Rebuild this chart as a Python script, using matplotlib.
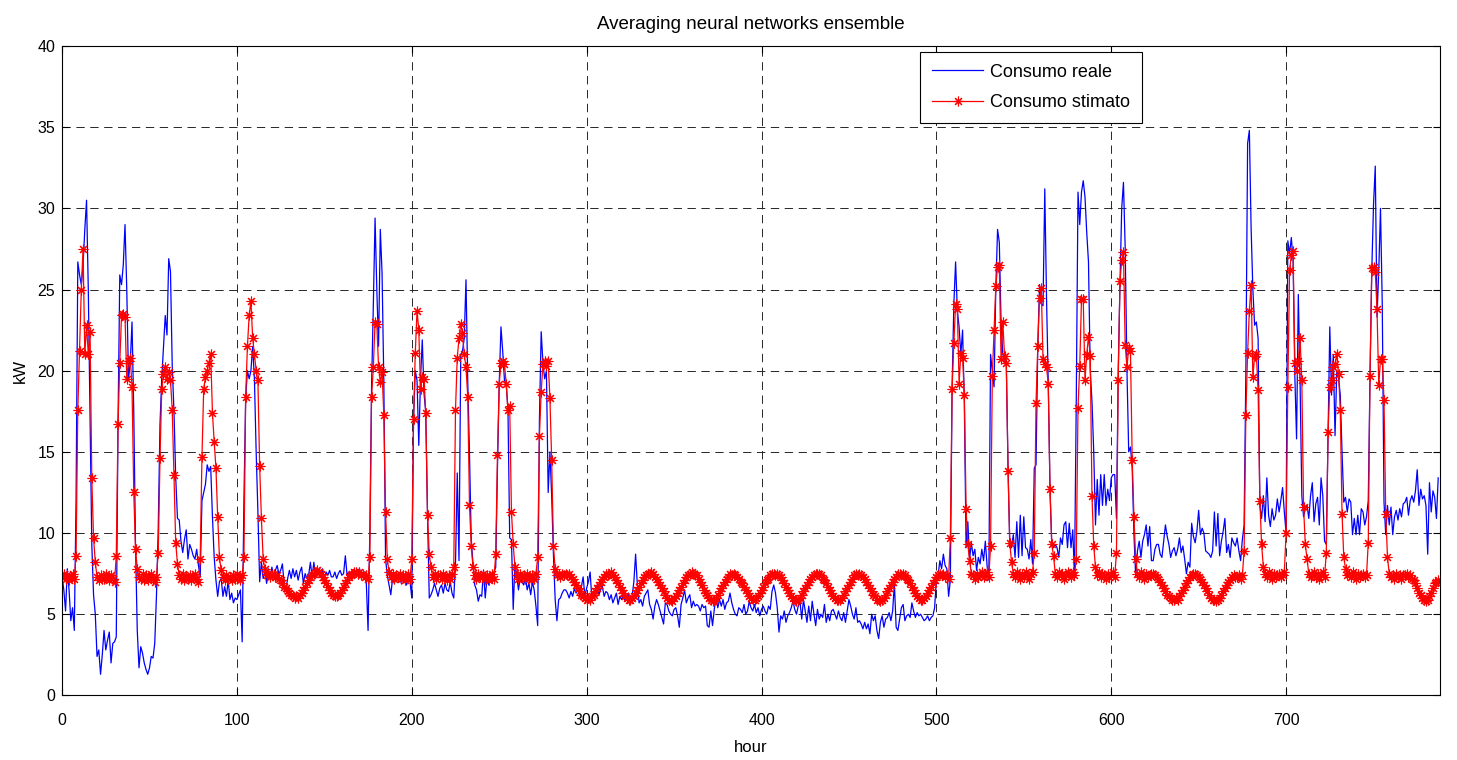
import numpy as np
import matplotlib
matplotlib.use("Agg")
import matplotlib.pyplot as plt

plt.rcParams['font.family'] = ['Liberation Sans', 'DejaVu Sans']
plt.rcParams['lines.scale_dashes'] = False

# hourly values, one row per day (24 h), last day is partial
consumo_reale = [
    7.3, 6.5, 5.2, 7.8, 6.5, 4.6, 5.4, 4.0, 12.0, 26.7, 25.9, 25.3, 26.5, 28.7, 30.5, 25.0, 17.0, 9.3, 6.2, 5.0, 2.4, 2.8, 1.3, 2.5,
    4.0, 2.8, 3.4, 3.9, 2.0, 3.2, 3.3, 3.6, 16.7, 25.9, 25.3, 26.5, 29.0, 25.0, 19.5, 20.5, 23.0, 17.5, 9.3, 4.0, 1.7, 3.0, 2.6, 2.0,
    1.6, 1.3, 1.7, 2.4, 2.3, 3.2, 6.2, 10.3, 16.7, 19.5, 21.5, 23.4, 22.2, 26.9, 26.1, 20.3, 17.5, 13.4, 10.9, 10.8, 9.5, 8.8, 9.6, 10.2,
    8.4, 9.3, 9.0, 8.6, 8.4, 9.0, 8.0, 7.3, 12.0, 12.5, 13.0, 14.2, 13.8, 14.1, 11.0, 8.5, 7.1, 6.1, 7.0, 7.2, 6.1, 6.7, 6.1, 7.1,
    5.9, 6.3, 5.7, 6.0, 5.9, 6.2, 6.5, 3.3, 12.0, 18.3, 20.0, 19.5, 20.0, 21.5, 19.5, 15.0, 11.3, 7.0, 8.2, 7.2, 7.6, 6.9, 7.8, 7.3,
    7.9, 7.3, 7.7, 8.0, 7.5, 7.7, 8.1, 6.9, 6.5, 7.2, 7.7, 7.2, 7.8, 7.3, 7.7, 7.1, 7.6, 7.9, 6.9, 7.5, 7.2, 7.4, 8.2, 7.3,
    8.2, 7.3, 7.6, 7.6, 7.3, 7.8, 7.2, 7.6, 7.4, 7.7, 7.3, 7.3, 7.6, 7.2, 7.5, 7.7, 7.4, 7.5, 8.6, 7.4, 7.6, 7.5, 7.6, 7.4,
    7.6, 7.4, 7.8, 7.5, 7.3, 7.6, 6.9, 4.0, 10.0, 19.0, 24.0, 29.4, 25.0, 21.5, 28.7, 26.0, 19.4, 8.4, 7.4, 6.8, 6.2, 7.2, 6.9, 7.3,
    7.1, 7.4, 6.9, 7.3, 7.0, 6.8, 7.2, 7.0, 6.0, 17.0, 20.0, 19.4, 15.4, 19.5, 21.9, 18.6, 17.4, 11.1, 6.0, 6.2, 6.5, 6.9, 6.5, 6.1,
    6.6, 6.8, 6.3, 6.9, 6.5, 6.4, 7.0, 6.3, 6.0, 8.1, 13.7, 8.3, 21.0, 21.2, 22.0, 25.6, 19.4, 14.9, 9.6, 8.1, 6.8, 6.5, 5.8, 6.2,
    6.1, 7.7, 6.0, 7.2, 6.8, 7.4, 6.9, 7.6, 7.9, 14.0, 19.2, 22.7, 21.2, 19.4, 19.2, 17.6, 9.7, 9.6, 5.3, 8.1, 7.4, 6.5, 7.2, 7.0,
    6.8, 7.3, 6.5, 6.9, 6.2, 7.0, 6.5, 5.5, 4.3, 17.0, 22.4, 20.5, 19.5, 20.0, 12.5, 15.0, 12.3, 8.7, 5.9, 4.6, 5.9, 6.0, 6.3, 6.5,
    6.5, 6.3, 6.0, 6.4, 6.1, 6.6, 6.3, 6.7, 6.2, 6.7, 7.3, 6.1, 6.6, 7.0, 7.6, 5.9, 6.3, 6.5, 6.8, 6.2, 6.5, 6.7, 6.1, 6.4,
    6.3, 5.9, 6.2, 5.7, 6.0, 6.3, 5.6, 6.1, 5.9, 6.2, 5.8, 6.0, 6.3, 5.8, 6.1, 7.0, 8.7, 6.8, 5.7, 5.9, 5.5, 6.1, 6.3, 6.5,
    5.6, 5.3, 4.7, 5.5, 5.9, 5.6, 5.2, 4.8, 4.4, 5.7, 5.6, 5.2, 5.0, 4.9, 5.3, 5.4, 4.9, 4.2, 5.6, 6.0, 6.5, 5.7, 6.0, 6.2,
    5.4, 5.8, 5.5, 5.6, 5.5, 5.2, 5.6, 5.4, 5.5, 4.3, 4.2, 5.2, 4.3, 5.3, 6.0, 5.4, 5.9, 5.5, 5.9, 5.3, 5.7, 5.8, 6.3, 5.7,
    5.3, 5.0, 4.9, 5.4, 5.3, 5.1, 5.6, 5.0, 5.2, 5.8, 5.4, 5.2, 5.6, 5.1, 5.4, 4.9, 5.3, 5.5, 5.2, 5.0, 5.5, 5.3, 6.4, 6.8,
    6.3, 5.4, 3.9, 4.9, 4.7, 5.2, 4.5, 4.9, 5.1, 5.4, 5.8, 5.3, 5.0, 5.5, 5.8, 4.7, 5.9, 5.2, 4.5, 5.5, 4.6, 5.8, 5.0, 4.3,
    5.3, 4.7, 5.0, 4.8, 5.6, 4.5, 5.0, 4.6, 5.2, 5.3, 5.0, 4.7, 5.2, 4.8, 4.6, 5.1, 4.5, 5.2, 5.9, 5.5, 5.0, 4.7, 5.4, 4.5,
    4.6, 4.4, 4.1, 4.5, 4.1, 4.4, 3.8, 5.0, 4.6, 4.9, 4.0, 3.5, 4.5, 4.9, 4.2, 4.7, 4.8, 5.1, 4.6, 5.2, 6.9, 4.2, 4.0, 4.7,
    5.4, 5.6, 4.6, 4.9, 5.0, 4.8, 5.7, 5.2, 4.8, 5.1, 4.9, 5.0, 4.8, 4.6, 4.7, 4.9, 4.6, 4.8, 4.9, 5.4, 7.1, 7.4, 8.3, 7.8,
    8.7, 8.0, 7.8, 6.1, 7.1, 19.0, 24.1, 26.7, 23.7, 22.7, 21.0, 22.5, 18.0, 9.1, 10.7, 8.4, 9.4, 8.6, 9.0, 7.7, 8.5, 8.1, 9.0, 8.3,
    9.5, 8.0, 7.1, 21.0, 20.0, 19.0, 25.1, 28.7, 27.9, 23.0, 21.0, 20.7, 20.4, 14.0, 9.1, 9.1, 9.9, 8.5, 10.7, 8.5, 11.1, 8.6, 11.0, 9.1,
    9.0, 8.4, 9.6, 8.1, 14.0, 14.2, 21.5, 25.3, 24.1, 24.0, 31.2, 24.5, 19.2, 12.6, 9.3, 9.1, 9.3, 9.1, 8.5, 9.7, 9.3, 10.5, 10.7, 9.1,
    10.6, 9.1, 10.2, 7.3, 18.0, 31.0, 29.0, 31.0, 31.7, 30.7, 28.5, 26.7, 20.0, 18.1, 15.0, 10.5, 13.3, 11.1, 13.6, 11.7, 13.6, 11.7, 12.7, 12.0,
    13.4, 13.6, 13.6, 10.9, 20.0, 25.3, 30.0, 31.6, 27.5, 20.0, 15.0, 15.3, 14.0, 9.9, 7.3, 8.9, 9.5, 8.5, 9.5, 9.9, 10.5, 9.2, 10.4, 8.3,
    8.3, 9.0, 9.3, 9.3, 8.7, 8.5, 9.5, 10.5, 9.8, 9.3, 8.5, 8.9, 9.1, 8.6, 9.0, 9.7, 8.8, 9.2, 8.4, 7.5, 8.2, 7.9, 10.6, 9.8,
    9.4, 10.1, 11.4, 9.9, 10.3, 10.0, 8.9, 8.8, 8.7, 8.5, 8.9, 11.3, 9.2, 11.2, 8.6, 9.5, 10.1, 10.9, 8.8, 9.3, 8.5, 9.7, 9.4, 9.2,
    9.7, 8.9, 8.3, 9.6, 10.5, 19.9, 34.0, 34.8, 28.8, 25.0, 22.8, 23.0, 22.0, 11.7, 10.9, 12.3, 10.7, 13.4, 11.1, 10.4, 11.5, 10.8, 11.1, 12.1,
    11.3, 12.0, 12.8, 11.3, 10.0, 28.0, 27.2, 28.2, 26.8, 19.7, 15.8, 24.7, 19.3, 12.3, 11.0, 11.5, 11.7, 10.9, 12.3, 13.1, 10.7, 11.8, 12.2, 10.5,
    13.4, 12.3, 9.5, 9.3, 16.2, 22.7, 18.5, 21.0, 16.0, 20.0, 19.6, 18.5, 15.0, 11.9, 12.2, 11.3, 12.1, 11.9, 9.9, 10.9, 9.9, 11.1, 9.9, 11.5,
    11.3, 10.5, 11.0, 12.0, 19.6, 26.1, 30.2, 32.6, 23.3, 26.1, 30.0, 24.1, 11.9, 9.9, 11.7, 10.5, 11.6, 9.9, 11.0, 11.4, 10.8, 11.5, 11.0, 11.8,
    11.9, 12.2, 11.1, 12.0, 12.3, 11.9, 12.6, 13.9, 11.7, 12.7, 12.1, 12.3, 11.7, 8.7, 13.1, 11.3, 12.6, 12.2, 10.9, 13.4,
]

consumo_stimato = [
    7.3, 7.5, 7.2, 7.4, 7.1, 7.3, 7.5, 7.2, 8.6, 17.6, 21.2, 25.0, 27.5, 21.0, 22.8, 21.0, 22.4, 13.4, 9.7, 8.2, 7.3, 7.1, 7.4, 7.2,
    7.2, 7.5, 7.3, 7.1, 7.4, 7.2, 7.0, 8.6, 16.7, 20.5, 23.4, 23.5, 23.3, 19.5, 20.6, 20.8, 19.0, 12.5, 9.0, 7.8, 7.3, 7.2, 7.5, 7.1,
    7.4, 7.1, 7.3, 7.5, 7.2, 7.0, 7.3, 8.8, 14.6, 18.9, 19.8, 20.2, 19.5, 19.9, 19.4, 17.6, 13.6, 9.4, 8.1, 7.4, 7.2, 7.5, 7.1, 7.3,
    7.2, 7.4, 7.1, 7.3, 7.5, 7.2, 7.0, 8.4, 14.7, 18.9, 19.6, 20.0, 20.5, 21.0, 17.4, 15.6, 14.0, 11.0, 8.5, 7.7, 7.3, 7.1, 7.4, 7.2,
    7.3, 7.1, 7.4, 7.2, 7.5, 7.3, 7.1, 7.4, 8.5, 18.4, 21.5, 23.4, 24.3, 22.0, 21.0, 20.0, 19.4, 14.1, 10.9, 8.4, 7.8, 7.4, 7.5, 7.3,
    7.4, 7.5, 7.3, 7.4, 7.2, 7.1, 6.9, 6.7, 6.6, 6.4, 6.3, 6.2, 6.1, 6.0, 6.1, 6.0, 6.2, 6.3, 6.5, 6.7, 6.9, 7.1, 7.3, 7.4,
    7.5, 7.6, 7.7, 7.6, 7.5, 7.3, 7.1, 6.9, 6.7, 6.5, 6.3, 6.2, 6.1, 6.1, 6.2, 6.3, 6.5, 6.7, 6.9, 7.1, 7.3, 7.4, 7.5, 7.6,
    7.6, 7.5, 7.6, 7.4, 7.5, 7.3, 7.4, 7.2, 8.5, 18.4, 20.2, 23.0, 22.9, 20.2, 19.3, 19.9, 17.3, 11.3, 8.4, 7.6, 7.3, 7.5, 7.2, 7.4,
    7.3, 7.5, 7.2, 7.4, 7.1, 7.3, 7.5, 7.2, 8.4, 17.0, 21.1, 23.7, 22.5, 18.9, 19.6, 19.5, 17.4, 11.1, 8.7, 7.9, 7.3, 7.5, 7.2, 7.4,
    7.4, 7.2, 7.5, 7.3, 7.1, 7.4, 7.2, 7.5, 7.9, 17.6, 20.8, 22.0, 22.9, 22.3, 21.0, 20.2, 18.4, 11.7, 9.2, 7.9, 7.4, 7.2, 7.5, 7.3,
    7.3, 7.5, 7.2, 7.4, 7.1, 7.3, 7.5, 7.2, 8.7, 14.8, 19.2, 20.5, 20.6, 20.4, 19.2, 17.6, 17.8, 11.3, 9.3, 7.9, 7.4, 7.2, 7.5, 7.3,
    7.4, 7.2, 7.5, 7.3, 7.1, 7.4, 7.2, 7.5, 8.5, 16.0, 18.7, 20.4, 20.6, 20.3, 20.6, 18.3, 14.5, 9.2, 7.8, 7.4, 7.5, 7.3, 7.5, 7.4,
    7.5, 7.4, 7.5, 7.3, 7.2, 7.0, 6.8, 6.6, 6.4, 6.2, 6.1, 6.0, 5.9, 6.0, 5.9, 6.1, 6.2, 6.4, 6.6, 6.8, 7.0, 7.2, 7.3, 7.5,
    7.4, 7.5, 7.6, 7.4, 7.3, 7.1, 6.9, 6.7, 6.5, 6.3, 6.1, 6.0, 5.9, 5.9, 6.0, 6.1, 6.3, 6.5, 6.7, 6.9, 7.1, 7.3, 7.4, 7.5,
    7.5, 7.6, 7.5, 7.3, 7.2, 7.0, 6.8, 6.6, 6.4, 6.2, 6.0, 5.9, 5.9, 5.8, 6.0, 6.1, 6.3, 6.5, 6.7, 6.9, 7.1, 7.3, 7.4, 7.5,
    7.6, 7.5, 7.4, 7.4, 7.2, 7.0, 6.8, 6.5, 6.3, 6.2, 6.0, 5.9, 5.8, 5.9, 6.0, 6.2, 6.4, 6.6, 6.8, 7.0, 7.2, 7.3, 7.5, 7.4,
    7.5, 7.4, 7.3, 7.2, 7.0, 6.9, 6.7, 6.5, 6.3, 6.1, 6.0, 5.9, 5.9, 6.0, 6.1, 6.3, 6.5, 6.7, 6.9, 7.1, 7.2, 7.4, 7.5, 7.5,
    7.4, 7.5, 7.4, 7.3, 7.1, 6.9, 6.7, 6.5, 6.3, 6.1, 6.0, 5.9, 5.8, 5.9, 6.0, 6.2, 6.4, 6.6, 6.8, 7.0, 7.2, 7.3, 7.4, 7.5,
    7.5, 7.5, 7.4, 7.2, 7.1, 6.9, 6.7, 6.5, 6.3, 6.1, 6.0, 5.9, 5.9, 5.9, 6.0, 6.2, 6.4, 6.6, 6.8, 7.0, 7.2, 7.4, 7.5, 7.4,
    7.5, 7.4, 7.3, 7.2, 7.0, 6.8, 6.6, 6.4, 6.2, 6.1, 5.9, 5.9, 5.8, 5.9, 6.0, 6.2, 6.4, 6.6, 6.8, 7.0, 7.2, 7.3, 7.5, 7.5,
    7.4, 7.5, 7.4, 7.2, 7.1, 6.9, 6.7, 6.5, 6.3, 6.1, 6.0, 5.9, 5.9, 6.0, 6.1, 6.3, 6.5, 6.7, 6.9, 7.1, 7.3, 7.4, 7.5, 7.4,
    7.5, 7.3, 7.4, 7.2, 9.7, 18.9, 21.7, 24.1, 23.8, 19.2, 21.1, 20.8, 18.5, 11.5, 9.3, 8.3, 7.5, 7.4, 7.2, 7.5, 7.3, 7.4, 7.6, 7.3,
    7.4, 7.6, 7.3, 9.2, 19.7, 22.5, 25.2, 26.4, 26.5, 20.7, 23.0, 20.9, 20.5, 13.8, 9.4, 8.2, 7.5, 7.3, 7.6, 7.4, 7.2, 7.5, 7.3, 7.6,
    7.4, 7.2, 7.5, 7.6, 8.8, 18.0, 21.5, 24.5, 25.1, 20.7, 20.4, 20.2, 19.2, 12.7, 9.3, 8.6, 7.5, 7.3, 7.6, 7.4, 7.5, 7.2, 7.4, 7.6,
    7.5, 7.3, 7.6, 7.4, 8.4, 17.7, 20.3, 24.4, 24.4, 19.4, 21.0, 22.1, 20.9, 12.3, 9.2, 7.9, 7.4, 7.6, 7.3, 7.5, 7.4, 7.2, 7.5, 7.3,
    7.4, 7.6, 7.3, 8.8, 19.4, 25.5, 26.8, 27.3, 21.6, 20.2, 21.4, 21.2, 14.5, 11.0, 8.4, 7.5, 7.3, 7.6, 7.4, 7.2, 7.5, 7.3, 7.4, 7.5,
    7.5, 7.4, 7.3, 7.2, 7.0, 6.8, 6.6, 6.4, 6.2, 6.1, 6.0, 5.9, 5.9, 6.0, 5.9, 6.1, 6.3, 6.5, 6.7, 6.9, 7.1, 7.3, 7.4, 7.5,
    7.5, 7.4, 7.3, 7.2, 7.0, 6.8, 6.6, 6.4, 6.2, 6.0, 5.9, 5.9, 5.8, 5.9, 6.0, 6.2, 6.4, 6.6, 6.8, 7.0, 7.1, 7.3, 7.4, 7.3,
    7.3, 7.4, 7.2, 7.4, 8.9, 17.3, 21.1, 23.7, 25.3, 19.6, 20.9, 21.0, 18.8, 12.0, 9.3, 7.9, 7.5, 7.3, 7.6, 7.4, 7.2, 7.5, 7.3, 7.4,
    7.5, 7.3, 7.4, 7.6, 10.0, 19.0, 26.2, 27.1, 27.4, 20.5, 20.0, 20.6, 22.0, 19.4, 11.6, 9.3, 8.4, 7.5, 7.3, 7.4, 7.6, 7.3, 7.5, 7.2,
    7.4, 7.6, 7.3, 8.8, 16.2, 19.0, 19.4, 20.2, 20.4, 21.0, 19.8, 17.6, 11.2, 8.5, 7.8, 7.4, 7.5, 7.3, 7.6, 7.4, 7.2, 7.5, 7.3, 7.4,
    7.5, 7.3, 7.4, 9.4, 19.7, 26.3, 26.4, 26.1, 23.8, 19.1, 20.7, 20.7, 18.2, 11.2, 8.5, 7.5, 7.3, 7.4, 7.2, 7.5, 7.3, 7.4, 7.2, 7.4,
    7.4, 7.5, 7.3, 7.4, 7.2, 7.1, 6.9, 6.6, 6.3, 6.2, 6.0, 5.9, 5.8, 5.9, 6.1, 6.3, 6.6, 6.9, 7.0, 7.1,
]

x_ticks = [0, 100, 200, 300, 400, 500, 600, 700]
y_ticks = [0, 5, 10, 15, 20, 25, 30, 35, 40]

hours = np.arange(len(consumo_reale))

fig = plt.figure(figsize=(14.57, 7.6), dpi=100)
ax = fig.add_axes([0.0426, 0.085, 0.9457, 0.8545])

ax.plot(hours, consumo_reale, color='blue', lw=0.9, label='Consumo reale')
ax.plot(hours, consumo_stimato, color='red', lw=0.9, marker=(8, 2, 0),
        markersize=7, markeredgewidth=0.8, label='Consumo stimato')

ax.set_xlim(0, 788)
ax.set_ylim(0, 40)
ax.set_xticks(x_ticks)
ax.set_yticks(y_ticks)
ax.tick_params(direction='in', length=5, top=True, right=True, labelsize=11.5)
ax.tick_params(axis='x', pad=13)
ax.tick_params(axis='y', pad=5)
ax.grid(True, color='0.15', linestyle=(0, (6, 4)), linewidth=0.7)
ax.set_axisbelow(True)

ax.set_title('Averaging neural networks ensemble', fontsize=13.5, pad=12)
ax.set_xlabel('hour', fontsize=12, labelpad=8)
ax.set_ylabel('kW', fontsize=12, labelpad=7)

leg = ax.legend(loc='upper left', bbox_to_anchor=(0.623, 0.991), fontsize=13,
                fancybox=False, framealpha=1, edgecolor='black', borderaxespad=0,
                handlelength=2.8, handletextpad=0.4, borderpad=0.65, labelspacing=0.75)
leg.get_frame().set_linewidth(0.8)

plt.savefig('out.png', dpi=100)
